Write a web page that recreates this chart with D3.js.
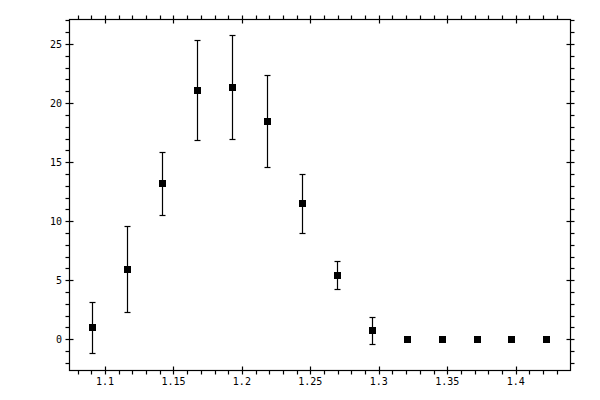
<!DOCTYPE html>
<html>
<head>
<meta charset="utf-8">
<script src="https://cdn.jsdelivr.net/npm/d3@7"></script>
<style>
  body { margin: 0; background: #fff; }
  svg { display: block; }
  .tick-label { font-family: "DejaVu Sans Mono", monospace; font-size: 10px; fill: #000; }
</style>
</head>
<body>
<div id="chart"></div>
<script>
const xValues = [1.0905, 1.1160, 1.1416, 1.1671, 1.1926, 1.2182, 1.2437, 1.2693, 1.2948, 1.3203, 1.3459, 1.3714, 1.3969, 1.4225];
const yValues = [1.0, 5.93, 13.2, 21.1, 21.35, 18.47, 11.53, 5.42, 0.76, 0, 0, 0, 0, 0];
const yErrors = [2.15, 3.65, 2.65, 4.24, 4.4, 3.92, 2.5, 1.2, 1.15, 0, 0, 0, 0, 0];
const xTickValues = [1.1, 1.15, 1.2, 1.25, 1.3, 1.35, 1.4];
const yTickValues = [0, 5, 10, 15, 20, 25];

const width = 600, height = 400;
const plotLeft = 69, plotRight = 570, plotTop = 19, plotBottom = 370;

const svg = d3.select('#chart').append('svg')
  .attr('width', width)
  .attr('height', height);

const x = d3.scaleLinear().domain([1.0737, 1.4397]).range([plotLeft, plotRight]);
const y = d3.scaleLinear().domain([-2.6, 27.12]).range([plotBottom, plotTop]);
const hx = v => Math.round(v) + 0.5;    // snap 1px lines to pixel centres

const L = hx(plotLeft), R = hx(plotRight), T = hx(plotTop), B = hx(plotBottom);

// frame
svg.append('rect')
  .attr('x', L).attr('y', T)
  .attr('width', R - L).attr('height', B - T)
  .attr('fill', 'none').attr('stroke', '#000').attr('stroke-width', 1.2);

const xMinor = d3.range(1.08, 1.44, 0.01).map(v => +v.toFixed(2))
  .filter(v => !xTickValues.some(t => Math.abs(t - v) < 1e-6));
const yMinor = d3.range(-2, 28, 1).filter(v => v % 5 !== 0);

const ticks = svg.append('g')
  .attr('stroke', '#000').attr('stroke-width', 1.2);

// bottom & top axes
xMinor.forEach(v => {
  ticks.append('line').attr('x1', hx(x(v))).attr('x2', hx(x(v))).attr('y1', B).attr('y2', B + 4);
  ticks.append('line').attr('x1', hx(x(v))).attr('x2', hx(x(v))).attr('y1', T).attr('y2', T - 4);
});
xTickValues.forEach(v => {
  ticks.append('line').attr('x1', hx(x(v))).attr('x2', hx(x(v))).attr('y1', B - 4).attr('y2', B + 4);
  ticks.append('line').attr('x1', hx(x(v))).attr('x2', hx(x(v))).attr('y1', T - 4).attr('y2', T + 4);
});
// left & right axes
yMinor.forEach(v => {
  ticks.append('line').attr('y1', hx(y(v))).attr('y2', hx(y(v))).attr('x1', L).attr('x2', L - 4);
  ticks.append('line').attr('y1', hx(y(v))).attr('y2', hx(y(v))).attr('x1', R).attr('x2', R + 4);
});
yTickValues.forEach(v => {
  ticks.append('line').attr('y1', hx(y(v))).attr('y2', hx(y(v))).attr('x1', L - 4).attr('x2', L + 4);
  ticks.append('line').attr('y1', hx(y(v))).attr('y2', hx(y(v))).attr('x1', R - 4).attr('x2', R + 4);
});

svg.selectAll('.xlab')
  .data(xTickValues)
  .enter().append('text')
    .attr('class', 'tick-label')
    .attr('x', d => x(d))
    .attr('y', plotBottom + 15)
    .attr('text-anchor', 'middle')
    .text(d => d3.format('')(d));

svg.selectAll('.ylab')
  .data(yTickValues)
  .enter().append('text')
    .attr('class', 'tick-label')
    .attr('x', plotLeft - 7)
    .attr('y', d => y(d) + 3.5)
    .attr('text-anchor', 'end')
    .text(d => d);

const points = xValues.map((v, i) => ({x: v, y: yValues[i], e: yErrors[i]}));
const withErr = points.filter(p => p.e > 0);

const bars = svg.append('g')
  .attr('stroke', '#000').attr('stroke-width', 1.2);

withErr.forEach(p => {
  const cx = hx(x(p.x));
  const yt = hx(y(p.y + p.e)), yb = hx(y(p.y - p.e));
  bars.append('line').attr('x1', cx).attr('x2', cx).attr('y1', yb).attr('y2', yt);
  bars.append('line').attr('x1', cx - 3).attr('x2', cx + 3).attr('y1', yt).attr('y2', yt);
  bars.append('line').attr('x1', cx - 3).attr('x2', cx + 3).attr('y1', yb).attr('y2', yb);
});

svg.selectAll('.pt')
  .data(points)
  .enter().append('rect')
    .attr('x', d => Math.round(x(d.x)) - 3)
    .attr('y', d => Math.round(y(d.y)) - 3)
    .attr('width', 7)
    .attr('height', 7)
    .attr('fill', '#000')
    .attr('shape-rendering', 'crispEdges');
</script>
</body>
</html>
